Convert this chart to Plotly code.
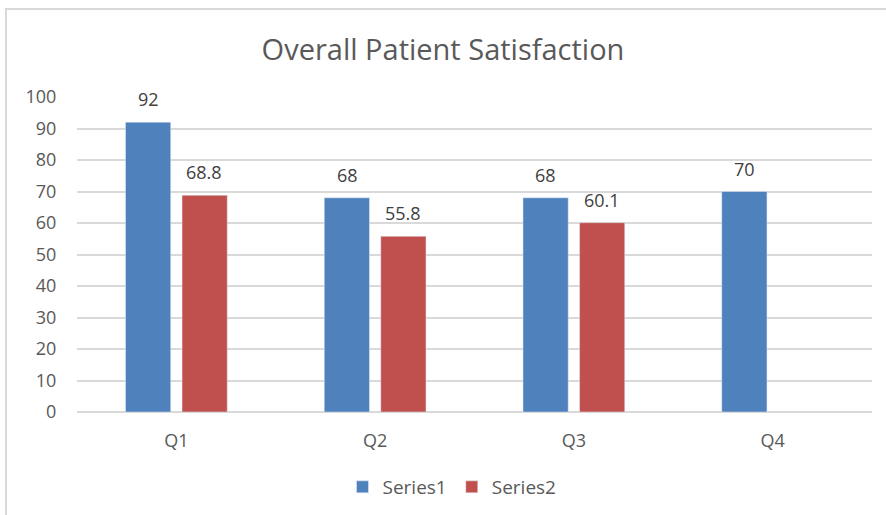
import plotly.graph_objects as go

categories = ["Q1", "Q2", "Q3", "Q4"]
series1 = [92, 68, 68, 70]
series2 = [68.8, 55.8, 60.1, None]
series1_labels = ["92", "68", "68", "70"]
series2_labels = ["68.8", "55.8", "60.1", ""]
y_ticks = list(range(0, 101, 10))

FONT = "Open Sans, DejaVu Sans, sans-serif"
BLUE = "#4F81BD"
RED = "#C0504D"
GRID = "#D9D9D9"
LABEL = "#404040"
TEXT = "#595959"

fig = go.Figure()
fig.add_trace(go.Bar(name="Series1", x=categories, y=series1, marker_color=BLUE))
fig.add_trace(go.Bar(name="Series2", x=categories, y=series2, marker_color=RED))

W, H = 886, 515
L, R, T, B = 77, 14, 97, 103
pw, ph = W - L - R, H - T - B

def px_x(p):
    return (p - L) / pw

def px_y(p):
    return (H - B - p) / ph

annotations = []
for vals, labels, shift in ((series1, series1_labels, -28), (series2, series2_labels, 28)):
    for cat, v, lab in zip(categories, vals, labels):
        if v is None:
            continue
        annotations.append(dict(x=cat, y=v, xref="x", yref="y", text=lab,
                                showarrow=False, xshift=shift, yshift=9,
                                yanchor="bottom",
                                font=dict(family=FONT, size=18, color=LABEL)))

fig.update_layout(
    width=W, height=H,
    margin=dict(l=L, r=R, t=T, b=B),
    paper_bgcolor="white", plot_bgcolor="white",
    barmode="group", bargap=0.431, bargroupgap=0.2,
    title=dict(text="Overall Patient Satisfaction", x=0.5, xanchor="center",
               y=1 - 50 / H, yanchor="middle",
               font=dict(family=FONT, size=29, color=TEXT)),
    font=dict(family=FONT, color=TEXT),
    showlegend=True,
    legend=dict(orientation="h", x=px_x(452), xanchor="center",
                yref="container", y=1 - 487 / H, yanchor="middle",
                font=dict(family=FONT, size=19, color=TEXT),
                itemwidth=30, traceorder="normal"),
    xaxis=dict(showgrid=False, showline=False, ticks="outside", ticklen=12,
               tickcolor="rgba(0,0,0,0)", automargin=False,
               tickfont=dict(family=FONT, size=18, color=TEXT)),
    yaxis=dict(range=[0, 100], tickvals=y_ticks, showgrid=True, gridcolor=GRID,
               gridwidth=1.5, zeroline=True, zerolinecolor=GRID, zerolinewidth=1.5,
               ticks="outside", ticklen=16, tickcolor="rgba(0,0,0,0)",
               automargin=False,
               tickfont=dict(family=FONT, size=18, color=TEXT)),
    annotations=annotations,
    shapes=[dict(type="rect", xref="paper", yref="paper",
                 x0=px_x(6), x1=px_x(890), y0=px_y(530), y1=px_y(9),
                 line=dict(color=GRID, width=2), fillcolor="rgba(0,0,0,0)",
                 layer="below")],
)

fig.write_html(
    "out.html",
    config={"displayModeBar": False},
    post_script="document.body.style.margin='0';document.body.style.overflow='hidden';",
)
